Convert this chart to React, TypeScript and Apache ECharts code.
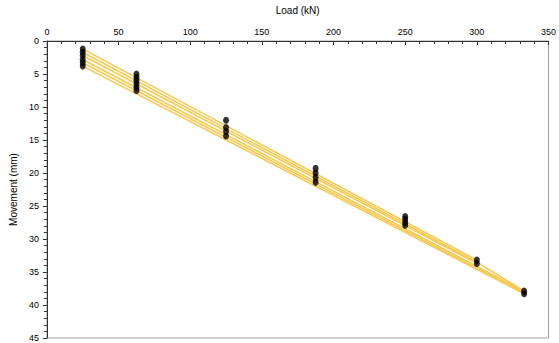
import React, { useEffect, useRef } from "react";
import * as echarts from "echarts";

// Yellow traces: each runs from the first load step to its last load step
const traceLoads1 = [25, 300];
const traceMove1 = [1.2, 33.2];
const traceLoads2 = [25, 300, 333];
const traceMove2 = [1.7, 33.5, 37.9];
const traceLoads3 = [25, 300];
const traceMove3 = [2.2, 33.7];
const traceLoads4 = [25, 333];
const traceMove4 = [2.8, 37.9];
const traceLoads5 = [25, 333];
const traceMove5 = [3.3, 38.1];
const traceLoads6 = [25, 333];
const traceMove6 = [3.8, 38.3];
const traces = [
  [traceLoads1, traceMove1],
  [traceLoads2, traceMove2],
  [traceLoads3, traceMove3],
  [traceLoads4, traceMove4],
  [traceLoads5, traceMove5],
  [traceLoads6, traceMove6],
];

// Measured points (black markers)
const pointLoads = [
  25, 25, 25, 25, 25, 25,
  62.5, 62.5, 62.5, 62.5, 62.5, 62.5,
  125, 125, 125, 125,
  187.5, 187.5, 187.5, 187.5,
  250, 250, 250, 250,
  300, 300,
  333, 333,
];
const pointMovements = [
  1.2, 1.7, 2.2, 2.8, 3.3, 3.8,
  5.0, 5.5, 6.0, 6.5, 7.0, 7.5,
  12.0, 13.1, 13.7, 14.4,
  19.3, 20.0, 20.7, 21.4,
  26.6, 27.0, 27.5, 27.9,
  33.2, 33.7,
  37.9, 38.3,
];

const xTitle = "Load (kN)";
const yTitle = "Movement (mm)";

export default function App() {
  const ref = useRef<HTMLDivElement>(null);
  useEffect(() => {
    if (!ref.current) return;
    const chart = echarts.init(ref.current, null, { renderer: "svg" });
    const font = "Liberation Sans, Arial, sans-serif";
    const lineSeries = traces.map(([xs, ys], i) => ({
      type: "line",
      name: "trace" + (i + 1),
      data: xs.map((x, j) => [x, ys[j]]),
      showSymbol: false,
      symbol: "none",
      lineStyle: { color: "#F6C84E", width: 1.5 },
      z: 2,
    }));
    chart.setOption({
      animation: false,
      grid: {
        left: 40,
        top: 39,
        right: 7,
        bottom: 5,
        show: true,
        borderColor: "#a0a0a0",
        borderWidth: 1,
        backgroundColor: "#fff",
      },
      xAxis: {
        type: "value",
        position: "top",
        min: 0,
        max: 350,
        interval: 50,
        name: xTitle,
        nameLocation: "middle",
        nameGap: 26,
        nameTextStyle: { fontFamily: font, fontSize: 10, color: "#000" },
        axisLine: { show: true, onZero: false, lineStyle: { color: "#333", width: 1 } },
        axisTick: { show: true, inside: true, length: 4, lineStyle: { color: "#333" } },
        minorTick: { show: true, splitNumber: 5, length: 3, lineStyle: { color: "#333" } },
        axisLabel: { fontFamily: font, fontSize: 9, color: "#000", margin: 5 },
        splitLine: { show: false },
      },
      yAxis: {
        type: "value",
        inverse: true,
        min: 0,
        max: 45,
        interval: 5,
        name: yTitle,
        nameLocation: "middle",
        nameGap: 25,
        nameRotate: 90,
        nameTextStyle: { fontFamily: font, fontSize: 10, color: "#000" },
        axisLine: { show: true, onZero: false, lineStyle: { color: "#333", width: 1 } },
        axisTick: { show: true, inside: false, length: 4, lineStyle: { color: "#333" } },
        minorTick: { show: true, splitNumber: 5, length: 3, lineStyle: { color: "#333" } },
        axisLabel: { fontFamily: font, fontSize: 9, color: "#000", margin: 8 },
        splitLine: { show: false },
      },
      series: [
        ...lineSeries,
        {
          type: "scatter",
          data: pointLoads.map((x, i) => [x, pointMovements[i]]),
          symbol: "circle",
          symbolSize: [6, 7],
          itemStyle: { color: "#000" },
          z: 3,
        },
      ],
    });
    return () => chart.dispose();
  }, []);
  return (
    <div
      ref={ref}
      style={{ position: "fixed", left: 0, top: 0, width: 559, height: 343, background: "#fff" }}
    />
  );
}
